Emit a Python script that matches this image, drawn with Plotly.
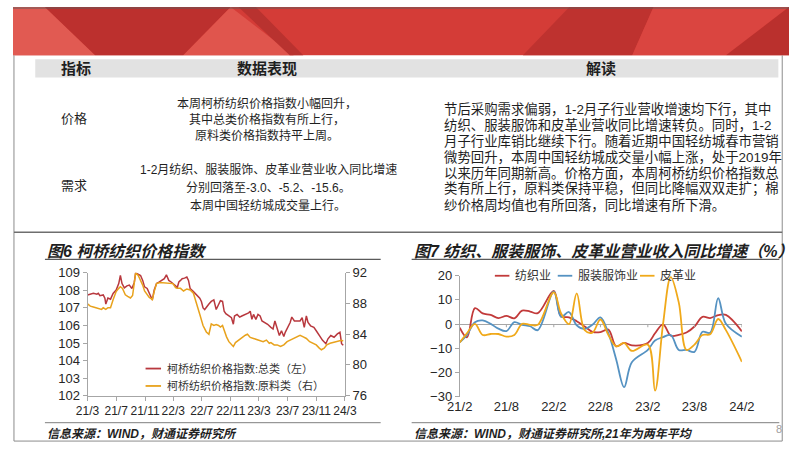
import plotly.graph_objects as go

W, H = 802, 451

# ---------------- data: Fig 6 (weekly price index) ----------------
red_dates = ["2021-03-01","2021-03-13","2021-03-26","2021-04-10","2021-04-16","2021-04-23","2021-05-07","2021-05-14","2021-05-18","2021-05-27",
             "2021-06-07","2021-06-18","2021-07-01","2021-07-12","2021-07-19","2021-07-26","2021-08-05","2021-08-16","2021-08-26","2021-09-06",
             "2021-09-16","2021-09-22","2021-10-03","2021-10-13","2021-10-22","2021-10-30","2021-11-10","2021-11-19","2021-11-27","2021-12-02",
             "2021-12-10","2021-12-20","2022-01-01","2022-01-11","2022-01-22","2022-01-31","2022-02-10","2022-02-20","2022-03-02","2022-03-11",
             "2022-03-18","2022-03-25","2022-04-01","2022-04-08","2022-04-18","2022-04-28","2022-05-05","2022-05-12","2022-05-26","2022-06-09",
             "2022-06-22","2022-06-29","2022-07-06","2022-07-13","2022-07-22","2022-07-31","2022-08-10","2022-08-21","2022-08-31","2022-09-10",
             "2022-09-18","2022-09-27","2022-10-04","2022-10-11","2022-10-24","2022-11-04","2022-11-12","2022-11-17","2022-11-28","2022-12-09",
             "2022-12-18","2023-01-02","2023-01-16","2023-01-23","2023-01-30","2023-02-06","2023-02-16","2023-02-25","2023-03-06","2023-03-14",
             "2023-03-24","2023-04-07","2023-04-21","2023-04-30","2023-05-08","2023-05-18","2023-05-27","2023-06-05","2023-06-15","2023-06-21",
             "2023-07-02","2023-07-12","2023-07-19","2023-07-30","2023-08-09","2023-08-23","2023-09-01","2023-09-10","2023-09-19","2023-09-26",
             "2023-10-07","2023-10-21","2023-10-31","2023-11-13","2023-11-27","2023-12-11","2023-12-20","2024-01-01","2024-01-15","2024-01-29",
             "2024-02-09","2024-02-16","2024-02-23"]
red_vals = [107.74,107.78,107.83,107.78,107.83,107.70,107.74,107.56,107.22,107.56,
            107.50,107.83,108.02,108.39,108.85,108.39,108.15,108.26,108.30,108.11,
            108.44,109.00,108.94,108.85,108.57,108.20,108.11,107.83,107.56,107.46,
            108.02,108.39,108.48,108.57,108.67,108.89,108.57,108.48,108.39,108.26,
            108.15,108.48,108.57,108.67,108.70,108.76,108.57,108.11,107.93,107.74,
            107.56,107.37,107.00,106.91,107.09,107.22,107.37,107.46,106.91,107.22,
            107.41,107.37,106.81,106.67,106.54,106.44,106.07,106.54,106.63,106.48,
            106.54,106.63,106.72,106.81,106.35,106.63,106.35,106.63,106.54,106.26,
            106.17,106.07,105.89,105.80,106.26,105.80,105.43,105.70,105.37,105.61,
            105.89,106.17,106.48,106.26,106.26,106.26,106.44,105.89,106.54,106.17,
            105.98,105.89,105.70,105.43,105.15,104.96,105.24,105.43,105.33,105.52,
            105.61,104.96,104.87]

orange_dates = ["2021-03-01","2021-03-13","2021-03-26","2021-04-10","2021-04-23","2021-04-30","2021-05-07","2021-05-18","2021-05-27","2021-06-07",
                "2021-06-18","2021-07-01","2021-07-12","2021-07-19","2021-07-28","2021-08-09","2021-08-19","2021-08-31","2021-09-09","2021-09-16",
                "2021-09-22","2021-10-03","2021-10-13","2021-10-22","2021-10-30","2021-11-10","2021-11-19","2021-11-27","2021-12-02","2021-12-10",
                "2021-12-20","2022-01-03","2022-01-17","2022-01-31","2022-02-15","2022-02-28","2022-03-11","2022-03-18","2022-04-01","2022-04-14",
                "2022-04-28","2022-05-12","2022-05-26","2022-06-09","2022-06-22","2022-07-06","2022-07-20","2022-07-31","2022-08-10","2022-08-21",
                "2022-08-31","2022-09-10","2022-09-18","2022-09-27","2022-10-04","2022-10-14","2022-10-24","2022-11-04","2022-11-12","2022-11-21",
                "2022-12-04","2022-12-18","2023-01-02","2023-01-11","2023-01-23","2023-02-06","2023-02-20","2023-03-06","2023-03-19","2023-04-02",
                "2023-04-14","2023-04-21","2023-05-05","2023-05-18","2023-06-01","2023-06-15","2023-06-29","2023-07-12","2023-07-26","2023-08-09",
                "2023-08-23","2023-09-06","2023-09-19","2023-10-03","2023-10-17","2023-10-31","2023-11-13","2023-11-22","2023-12-04","2023-12-15",
                "2023-12-29","2024-01-12","2024-01-26","2024-02-09","2024-02-16","2024-02-23"]
orange_vals = [87.96,87.66,87.54,87.45,87.33,87.24,87.45,87.24,87.45,87.45,
               88.50,89.56,89.98,90.19,89.98,89.14,88.93,88.72,89.05,90.40,
               92.00,91.66,91.03,90.40,89.64,89.14,88.80,88.63,88.50,89.56,
               90.60,90.74,90.70,90.70,90.70,90.60,90.06,89.98,89.98,89.64,
               89.90,89.77,89.35,88.08,86.60,85.14,84.30,84.00,85.35,85.14,
               85.26,85.14,84.93,85.14,84.51,83.66,83.03,82.61,82.40,82.91,
               83.24,83.58,83.87,84.00,83.58,83.45,83.33,83.16,83.03,83.24,
               82.82,82.91,82.61,82.61,82.40,82.61,83.03,83.24,83.45,83.66,
               83.87,83.66,83.45,83.03,82.82,82.61,82.19,81.98,82.19,82.61,
               82.82,82.91,83.03,83.16,83.20,83.10]

f6_tickvals = ["2021-03-01","2021-07-01","2021-11-01","2022-03-01","2022-07-01","2022-11-01",
               "2023-03-01","2023-07-01","2023-11-01","2024-03-01"]
f6_ticktext = ["21/3","21/7","21/11","22/3","22/7","22/11","23/3","23/7","23/11","24/3"]
f6_name_red = "柯桥纺织价格指数:总类（左）"
f6_name_orange = "柯桥纺织价格指数:原料类（右）"

# ---------------- data: Fig 7 (monthly YoY %, Jan not published) ----------------
f7_months = ["2021-02","2021-03","2021-04","2021-05","2021-06","2021-07","2021-08","2021-09","2021-10","2021-11","2021-12",
             "2022-02","2022-03","2022-04","2022-05","2022-06","2022-07","2022-08","2022-09","2022-10","2022-11","2022-12",
             "2023-02","2023-03","2023-04","2023-05","2023-06","2023-07","2023-08","2023-09","2023-10","2023-11","2023-12",
             "2024-02"]
textile = [-1.5,-5.5,6.6,4.4,3.8,2.5,3.4,2.4,5.6,5.2,4.5,
           13.7,3.2,2.8,1.2,-1.0,-3.2,-3.3,-2.3,-9.2,-7.8,-8.8,
           -7.8,-3.8,-0.1,-4.8,-4.5,-3.5,-1.0,3.0,2.5,3.7,3.8,
           -3.0]
apparel = [-7.6,-4.5,0.8,1.5,0.1,-1.9,-2.9,0.8,-0.3,-0.9,-2.5,
           13.4,3.0,5.0,-0.5,-2.0,-0.3,2.8,-3.8,-14.5,-26.1,-15.8,
           -10.7,-6.8,-5.4,-4.5,-10.7,-10.7,-11.5,-3.2,-3.6,10.7,0.1,
           -5.2]
leather = [-7.6,-3.8,0.1,-4.5,-4.1,-4.1,-5.2,-4.5,0.1,-0.3,-0.3,
           13.1,4.5,0.0,12.7,-2.5,-3.5,1.9,-4.5,-9.2,-7.8,-11.1,
           -8.5,-27.5,0.0,19.4,9.0,-10.7,-8.5,-4.5,-4.2,2.1,-2.5,
           -15.6]
f7_names = ["纺织业", "服装服饰业", "皮革业"]
f7_tickvals = ["2021-02-01","2021-08-01","2022-02-01","2022-08-01","2023-02-01","2023-08-01","2024-02-01"]
f7_ticktext = ["21/2","21/8","22/2","22/8","23/2","23/8","24/2"]

# ---------------- text ----------------
hdr = ["指标", "数据表现", "解读"]
row_labels = ["价格", "需求"]
price_lines = ["本周柯桥纺织价格指数小幅回升，", "其中总类价格指数有所上行，", "原料类价格指数持平上周。"]
demand_lines = ["1-2月纺织、服装服饰、皮革业营业收入同比增速", "分别回落至-3.0、-5.2、-15.6。", "本周中国轻纺城成交量上行。"]
read_lines = ["节后采购需求偏弱，1-2月子行业营收增速均下行，其中",
              "纺织、服装服饰和皮革业营收同比增速转负。同时，1-2",
              "月子行业库销比继续下行。随着近期中国轻纺城春市营销",
              "微势回升，本周中国轻纺城成交量小幅上涨，处于2019年",
              "以来历年同期新高。价格方面，本周柯桥纺织价格指数总",
              "类有所上行，原料类保持平稳，但同比降幅双双走扩；棉",
              "纱价格周均值也有所回落，同比增速有所下滑。"]
title6 = "图6 柯桥纺织价格指数"
title7 = "图7 纺织、服装服饰、皮革业营业收入同比增速（%）"
src6 = "信息来源：WIND，财通证券研究所"
src7 = "信息来源：WIND，财通证券研究所,21年为两年平均"

# ---------------- helpers ----------------
def px(x):
    return x / W

def py(y):
    return 1 - y / H

def poly(pts):
    return "M " + " L ".join(f"{px(a):.5f},{py(b):.5f}" for a, b in pts) + " Z"

FONT = "Liberation Sans, Arial, Noto Sans CJK SC"
TXT = "#1F1F1F"
AX = "#A6A6A6"

fig = go.Figure()

C_RED6, C_OR6 = "#B8383E", "#E8A21C"
fig.add_trace(go.Scatter(x=red_dates, y=red_vals, mode="lines", xaxis="x", yaxis="y",
                         line=dict(color=C_RED6, width=1.5), showlegend=False))
fig.add_trace(go.Scatter(x=orange_dates, y=orange_vals, mode="lines", xaxis="x", yaxis="y2",
                         line=dict(color=C_OR6, width=1.5), showlegend=False))

C7 = ["#C23A3A", "#5592C2", "#F0A91A"]
f7_dates = [m + "-01" for m in f7_months]
for vals, col in zip([textile, apparel, leather], C7):
    fig.add_trace(go.Scatter(x=f7_dates, y=vals, mode="lines", xaxis="x2", yaxis="y3",
                             line=dict(color=col, width=1.8, shape="spline", smoothing=1.0),
                             showlegend=False))

tickfont = dict(family=FONT, size=13, color="#262626")
tickfont_x6 = dict(family=FONT, size=12, color="#262626")
fig.update_layout(
    width=W, height=H, margin=dict(l=0, r=0, t=0, b=0),
    paper_bgcolor="white", plot_bgcolor="rgba(0,0,0,0)",
    font=dict(family=FONT, color=TXT),
    xaxis=dict(domain=[px(77), px(343)], type="date", range=["2021-03-01", "2024-03-01"],
               tickvals=f6_tickvals, ticktext=f6_ticktext, tickangle=0, showgrid=False, zeroline=False,
               showline=True, linecolor=AX, linewidth=1, ticks="outside", ticklen=4, tickcolor=AX,
               tickfont=tickfont_x6, anchor="y"),
    yaxis=dict(domain=[py(402), py(275)], range=[102, 109], tickvals=list(range(102, 110)),
               showgrid=False, zeroline=False, showline=True, linecolor=AX, ticks="outside",
               ticklen=4, tickcolor=AX, tickfont=tickfont, anchor="x"),
    yaxis2=dict(overlaying="y", side="right", anchor="x", range=[76, 92], tickvals=[76, 80, 84, 88, 92],
                showgrid=False, zeroline=False, showline=True, linecolor=AX, ticks="outside",
                ticklen=4, tickcolor=AX, tickfont=tickfont),
    xaxis2=dict(domain=[px(461.7), px(753.3)], type="date", range=["2021-02-01", "2024-02-01"],
                tickvals=f7_tickvals, ticktext=f7_ticktext, tickangle=0, showgrid=False, zeroline=False,
                showline=False, ticks="", tickfont=tickfont, anchor="y3"),
    yaxis3=dict(domain=[py(403), py(278)], range=[-30, 20], tickvals=[-30, -20, -10, 0, 10, 20],
                showgrid=False, zeroline=True, zerolinecolor=AX, zerolinewidth=1,
                showline=True, linecolor=AX, ticks="outside", ticklen=4, tickcolor=AX,
                tickfont=tickfont, anchor="x2"),
)

shapes = []
# banner
shapes.append(dict(type="rect", xref="paper", yref="paper", x0=0, x1=1, y0=py(50), y1=1,
                   fillcolor="#D43C37", line=dict(width=0), layer="below"))
banner_polys = [
    ([(0, 0), (33, 0), (85, 50), (0, 50)], "#E15A52"),
    ([(33, 0), (225, 0), (176, 50), (85, 50)], "#BC302E"),
    ([(176, 50), (225, 0), (290, 50)], "#E0554D"),
    ([(233, 0), (251, 0), (300, 50), (286, 50)], "#B9322F"),
    ([(527, 50), (575, 0), (662, 0), (640, 50)], "#BE322F"),
    ([(640, 50), (662, 0), (802, 0), (737, 50)], "#DA4540"),
    ([(737, 50), (802, 0), (802, 50)], "#BA302D"),
]
for pts, col in banner_polys:
    shapes.append(dict(type="path", xref="paper", yref="paper", path=poly(pts),
                       fillcolor=col, line=dict(width=0), layer="below"))
shapes.append(dict(type="rect", xref="paper", yref="paper", x0=0, x1=1, y0=py(2), y1=1,
                   fillcolor="rgba(90,90,90,0.45)", line=dict(width=0), layer="below"))

def hline(y, x0, x1, color, w):
    shapes.append(dict(type="line", xref="paper", yref="paper", x0=px(x0), x1=px(x1),
                       y0=py(y), y1=py(y), line=dict(color=color, width=w)))

def vline(x, y0, y1, color, w):
    shapes.append(dict(type="line", xref="paper", yref="paper", x0=px(x), x1=px(x),
                       y0=py(y0), y1=py(y1), line=dict(color=color, width=w)))

# table header band
shapes.append(dict(type="rect", xref="paper", yref="paper", x0=px(23), x1=px(791), y0=py(73), y1=py(54),
                   fillcolor="#E2E2E2", line=dict(width=0), layer="below"))
# frame
vline(1, 50, 449, "#8C8C8C", 1)
vline(795, 50, 449, "#8C8C8C", 1)
hline(449, 1, 795, "#8C8C8C", 1)
hline(233, 1, 795, "#6E6E6E", 1.5)
# chart title underlines and bottom rules
hline(261, 33, 380, "#5A5A5A", 1.3)
hline(261, 412, 792, "#5A5A5A", 1.3)
hline(430, 33, 380, "#7F7F7F", 1)
hline(430, 412, 792, "#7F7F7F", 1)

# small tick marks on the fig7 zero line
for tv in f7_tickvals[1:]:
    shapes.append(dict(type="line", xref="x2", yref="y3", x0=tv, x1=tv, y0=0, y1=-1.3,
                       line=dict(color=AX, width=1)))

# legends (drawn manually)
def leg_line(x0, x1, y, col, w=1.8):
    shapes.append(dict(type="line", xref="paper", yref="paper", x0=px(x0), x1=px(x1),
                       y0=py(y), y1=py(y), line=dict(color=col, width=w)))

leg_line(137, 153, 374, C_RED6)
leg_line(137, 153, 392, C_OR6)
leg_line(498, 513, 278, C7[0])
leg_line(563, 578, 278, C7[1])
leg_line(648, 663, 278, C7[2])

fig.update_layout(shapes=shapes)

ann = []
def text(x, y, s, size, xanchor="center", color=TXT):
    ann.append(dict(xref="paper", yref="paper", x=px(x), y=py(y), text=s, showarrow=False,
                    xanchor=xanchor, yanchor="middle", font=dict(family=FONT, size=size, color=color)))

# table
text(65.5, 63.5, "<b>" + hdr[0] + "</b>", 15)
text(263, 63.5, "<b>" + hdr[1] + "</b>", 15)
text(608, 63.5, "<b>" + hdr[2] + "</b>", 15)
text(63, 115, row_labels[0], 13)
text(63, 185, row_labels[1], 13)
for s, y in zip(price_lines, [100, 116.5, 132.5]):
    text(263, y, s, 12)
for s, y in zip(demand_lines, [169, 187.5, 205]):
    text(264, y, s, 12)
for i, s in enumerate(read_lines):
    text(443, 106 + i * 16.5, s, 13.4, xanchor="left")

# chart titles / sources
text(33, 252.5, "<b><i>" + title6 + "</i></b>", 16, xanchor="left")
text(412, 252.5, "<b><i>" + title7 + "</i></b>", 16, xanchor="left")
text(33, 442, "<b><i>" + src6 + "</i></b>", 12, xanchor="left")
text(412, 442, "<b><i>" + src7 + "</i></b>", 12, xanchor="left")
text(792, 437, "8", 11, color="#A0A0A0")

# legend labels
text(157, 374, f6_name_red, 11, xanchor="left", color="#333333")
text(157, 392, f6_name_orange, 11, xanchor="left", color="#333333")
text(517, 278, f7_names[0], 12, xanchor="left", color="#333333")
text(582, 278, f7_names[1], 12, xanchor="left", color="#333333")
text(667, 278, f7_names[2], 12, xanchor="left", color="#333333")

fig.update_layout(annotations=ann)
fig.write_html("out.html")
